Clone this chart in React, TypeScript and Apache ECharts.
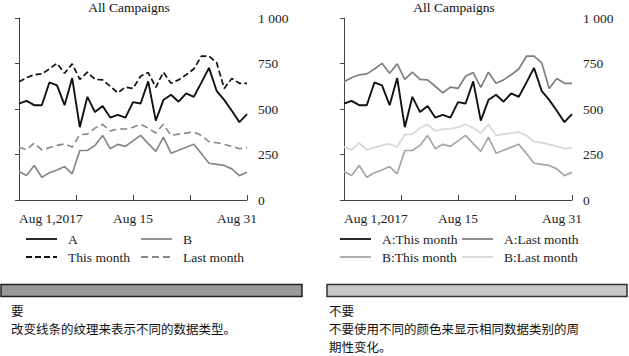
import React, { useEffect, useRef } from "react";
import * as echarts from "echarts";

// ---- data ----
const A_THIS = [530, 545, 521, 521, 646, 630, 521, 670, 400, 567, 483, 516, 453, 468, 453, 538, 530, 652, 436, 549, 578, 540, 586, 567, 645, 726, 600, 550, 490, 428, 472];
const A_LAST = [650, 672, 688, 693, 720, 751, 696, 748, 663, 702, 663, 660, 625, 589, 620, 613, 680, 700, 619, 702, 641, 660, 688, 720, 790, 790, 755, 613, 668, 641, 641];
const B_THIS = [156, 134, 190, 125, 150, 165, 184, 144, 272, 272, 300, 355, 282, 306, 295, 325, 355, 310, 267, 346, 257, 273, 290, 306, 255, 202, 196, 190, 171, 134, 152];
const B_LAST = [291, 276, 313, 275, 288, 300, 308, 291, 359, 362, 395, 416, 379, 390, 390, 400, 416, 395, 368, 416, 355, 362, 368, 374, 355, 320, 315, 306, 295, 282, 287];

const X_TICK_VALUES = [0, 15, 30];
const X_TICK_LABELS = ["Aug 1,2017", "Aug 15", "Aug 31"];
const Y_TICK_LABELS: Record<number, string> = { 0: "0", 250: "250", 500: "500", 750: "750", 1000: "1 000" };

const TITLE = "All Campaigns";
const LEFT_LEGEND = ["A", "B", "This month", "Last month"];
const RIGHT_LEGEND = ["A:This month", "A:Last month", "B:This month", "B:Last month"];
const LEFT_NOTE = ["要", "改变线条的纹理来表示不同的数据类型。"];
const RIGHT_NOTE = ["不要", "不要使用不同的颜色来显示相同数据类别的周", "期性变化。"];

const SERIF = "'Liberation Serif', 'Times New Roman', serif";
const CJK = "'Noto Sans CJK SC', sans-serif";
const FS = 13.5;

const toPairs = (arr: number[]) => arr.map((v, i) => [i, v]);

function xAxis(gridIndex: number) {
  return {
    type: "value",
    gridIndex,
    min: 0,
    max: 30,
    interval: 7.5,
    axisLine: { show: true, lineStyle: { color: "#444", width: 1 } },
    axisTick: { show: true, inside: true, length: 5, lineStyle: { color: "#444" } },
    splitLine: { show: false },
    axisLabel: {
      show: true,
      margin: 11,
      fontFamily: SERIF,
      fontSize: FS,
      color: "#222",
      alignMinLabel: "left",
      alignMaxLabel: "center",
      showMinLabel: true,
      showMaxLabel: true,
      formatter: (v: number) => {
        const i = X_TICK_VALUES.indexOf(v);
        if (i < 0) return "";
        if (i === X_TICK_VALUES.length - 1) return "{end|" + X_TICK_LABELS[i] + "}";
        return X_TICK_LABELS[i];
      },
      rich: {
        end: { padding: [0, 20, 0, 0], fontFamily: SERIF, fontSize: FS, color: "#222" },
      },
    },
  };
}

function yAxis(gridIndex: number) {
  return {
    type: "value",
    gridIndex,
    position: "right",
    min: 0,
    max: 1000,
    interval: 250,
    axisLine: { show: true, lineStyle: { color: "#444", width: 1 } },
    axisTick: { show: true, inside: true, length: 4, lineStyle: { color: "#444" } },
    splitLine: { show: false },
    axisLabel: {
      margin: 11,
      fontFamily: SERIF,
      fontSize: FS,
      color: "#222",
      formatter: (v: number) => Y_TICK_LABELS[v] ?? "",
    },
  };
}

function line(name: string, data: number[], idx: number, color: string, width: number, dash?: number[]) {
  return {
    type: "line",
    name,
    xAxisIndex: idx,
    yAxisIndex: idx,
    data: toPairs(data),
    symbol: "none",
    smooth: false,
    lineStyle: { color, width, type: dash ? dash : "solid" },
  };
}

function legendItem(x: number, y: number, label: string, color: string, dash?: number[]) {
  return [
    {
      type: "line",
      shape: { x1: x, y1: y, x2: x + 31, y2: y },
      style: { stroke: color, lineWidth: 1.8, lineDash: dash || null },
    },
    {
      type: "text",
      x: x + 42,
      y,
      style: { text: label, font: `${FS}px ${SERIF}`, fill: "#222", textVerticalAlign: "middle" },
    },
  ];
}

export default function App() {
  const ref = useRef<HTMLDivElement>(null);
  useEffect(() => {
    if (!ref.current) return;
    const chart = echarts.init(ref.current, null, { renderer: "svg" });
    const dashA = [6, 3];
    const dashB = [7, 4];
    const LH = 18.2;
    const noteLines = (x: number, y0: number, lines: string[]) =>
      lines.map((t, i) => ({
        type: "text",
        x,
        y: y0 + i * LH,
        style: { text: t, font: `12.5px ${CJK}`, fill: "#111", textVerticalAlign: "middle" },
      }));
    const graphic: any[] = [
      ...legendItem(26, 239, LEFT_LEGEND[0], "#111"),
      ...legendItem(141, 239, LEFT_LEGEND[1], "#888"),
      ...legendItem(26, 257, LEFT_LEGEND[2], "#111", dashA),
      ...legendItem(141, 257, LEFT_LEGEND[3], "#888", dashB),
      ...legendItem(340, 239, RIGHT_LEGEND[0], "#111"),
      ...legendItem(462, 239, RIGHT_LEGEND[1], "#808080"),
      ...legendItem(340, 257, RIGHT_LEGEND[2], "#a6a6a6"),
      ...legendItem(462, 257, RIGHT_LEGEND[3], "#d6d6d6"),
      {
        type: "rect",
        shape: { x: 1, y: 284.5, width: 301, height: 12 },
        style: { fill: "#999999", stroke: "#222", lineWidth: 1.5 },
      },
      {
        type: "rect",
        shape: { x: 327, y: 284.5, width: 300, height: 12 },
        style: { fill: "#c8c8c8", stroke: "#333", lineWidth: 1.5 },
      },
      ...noteLines(11, 310.5, LEFT_NOTE),
      ...noteLines(329, 310.5, RIGHT_NOTE),
    ];
    chart.setOption({
      animation: false,
      backgroundColor: "#fff",
      title: [
        { text: TITLE, left: 129, top: 0, padding: 0, textAlign: "center", textStyle: { fontFamily: SERIF, fontSize: FS, fontWeight: "normal", color: "#111" } },
        { text: TITLE, left: 454, top: 0, padding: 0, textAlign: "center", textStyle: { fontFamily: SERIF, fontSize: FS, fontWeight: "normal", color: "#111" } },
      ],
      grid: [
        { left: 19, width: 228, top: 18, height: 182 },
        { left: 344, width: 228, top: 18, height: 182 },
      ],
      xAxis: [xAxis(0), xAxis(1)],
      yAxis: [yAxis(0), yAxis(1)],
      series: [
        line("A:Last month", A_LAST, 0, "#111", 1.7, dashA),
        line("B:Last month", B_LAST, 0, "#888", 1.6, dashB),
        line("B:This month", B_THIS, 0, "#888", 1.7),
        line("A:This month", A_THIS, 0, "#111", 1.9),
        line("B:Last month", B_LAST, 1, "#d6d6d6", 1.7),
        line("B:This month", B_THIS, 1, "#a6a6a6", 1.7),
        line("A:Last month", A_LAST, 1, "#808080", 1.7),
        line("A:This month", A_THIS, 1, "#111", 1.9),
      ],
      graphic,
    });
    return () => chart.dispose();
  }, []);
  return (
    <div
      ref={ref}
      style={{ position: "absolute", left: 0, top: 0, width: 629, height: 356, background: "#fff" }}
    />
  );
}
